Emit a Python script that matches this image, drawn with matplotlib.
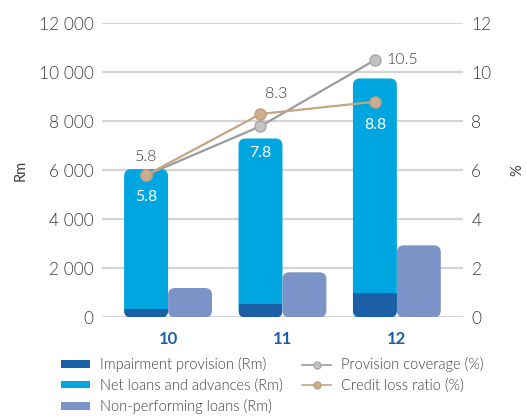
import matplotlib.pyplot as plt
from matplotlib.patches import FancyBboxPatch, Rectangle, Patch
from matplotlib.lines import Line2D

years = ["10", "11", "12"]
impairment = [350, 540, 990]
net_loans = [6050, 7300, 9750]
npl = [1200, 1840, 2940]
provision_cov = [5.8, 7.8, 10.5]
credit_loss = [5.8, 8.3, 8.8]

c_dark = "#1b5fa6"
c_cyan = "#00a6e0"
c_npl = "#7b93c7"
c_grey = "#9b9b9b"
c_tan = "#c3a584"
c_text = "#3f3f3f"

plt.rcParams["font.family"] = ["Lato", "DejaVu Sans"]
plt.rcParams["font.weight"] = 300

fig = plt.figure(figsize=(5.26, 4.16), dpi=100)
ax = fig.add_axes([0.194, 0.237, 0.686, 0.707])
ax2 = ax.twinx()

w = 0.384
x = list(range(len(years)))
ax.set_xlim(-0.577, 2.577)
ax.set_ylim(0, 12000)
ax2.set_ylim(0, 12)

# px -> data scale factors for rounded corners
px_x = 3.154 / 361.0
px_y = 12000 / 294.0
r = 7 * px_x
aspect = px_y / px_x


def rounded_bar(xc, h, color, z):
    p = FancyBboxPatch((xc - w / 2, 0), w, h,
                       boxstyle=f"round,pad=0,rounding_size={r}",
                       mutation_aspect=aspect, fc=color, ec="none", zorder=z)
    ax.add_patch(p)
    return p


for i in x:
    blue = rounded_bar(i - w / 2, net_loans[i], c_cyan, 3)
    dark = Rectangle((i - w, 0), w, impairment[i], fc=c_dark, ec="none", zorder=4)
    ax.add_patch(dark)
    dark.set_clip_path(blue)
    rounded_bar(i + w / 2, npl[i], c_npl, 3)

# gridlines
for v in range(0, 12001, 2000):
    ax.axhline(v, color="#d4d4d4", lw=1.6 if v else 2.2, zorder=1)

for s in ["top", "bottom", "left", "right"]:
    ax.spines[s].set_visible(False)
    ax2.spines[s].set_visible(False)

ax.set_yticks(range(0, 12001, 2000))
ax.set_yticklabels([f"{v:,}".replace(",", " ") for v in range(0, 12001, 2000)])
ax.tick_params(axis="y", length=0, pad=6, labelsize=12.5, labelcolor=c_text)
ax2.set_yticks(range(0, 13, 2))
ax2.tick_params(axis="y", length=0, pad=6, labelsize=12.5, labelcolor=c_text)
ax.set_xticks(x)
ax.set_xticklabels(years, fontweight="bold", color=c_dark, fontsize=12)
ax.tick_params(axis="x", length=0, pad=10)

ax.set_ylabel("Rm", color=c_text, fontsize=10.5, labelpad=8)
ax2.set_ylabel("%", color=c_text, fontsize=10.5, labelpad=14)

lx = [i - w / 2 for i in x]
ax2.plot(lx, provision_cov, color=c_grey, lw=1.6, marker="o", ms=8,
         mfc="#c2c2c2", mec="#a8a8a8", zorder=5)
ax2.plot(lx, credit_loss, color=c_tan, lw=1.6, marker="o", ms=8,
         mfc="#c9ad8e", mec="#bfa080", zorder=6)
ax2.set_zorder(ax.get_zorder() + 1)
ax2.patch.set_visible(False)

# value labels
fs = 11.5
ax2.text(lx[0], provision_cov[0] + 0.75, f"{provision_cov[0]}", ha="center", va="center", fontsize=fs, color=c_text)
ax2.text(lx[0], credit_loss[0] - 0.9, f"{credit_loss[0]}", ha="center", va="center", fontsize=fs, color="white", fontweight="normal")
ax2.text(lx[1] + 0.14, credit_loss[1] + 0.8, f"{credit_loss[1]}", ha="center", va="center", fontsize=fs, color=c_text)
ax2.text(lx[1], provision_cov[1] - 1.1, f"{provision_cov[1]}", ha="center", va="center", fontsize=fs, color="white", fontweight="normal")
ax2.text(lx[2] + 0.1, provision_cov[2], f"{provision_cov[2]}", ha="left", va="center", fontsize=fs, color=c_text)
ax2.text(lx[2], credit_loss[2] - 0.95, f"{credit_loss[2]}", ha="center", va="center", fontsize=fs, color="white", fontweight="normal")

handles = [
    Patch(fc=c_dark, ec="none"),
    Patch(fc=c_cyan, ec="none"),
    Patch(fc=c_npl, ec="none"),
    Line2D([], [], color=c_grey, lw=1.2, marker="o", ms=5, mfc="#c2c2c2", mec="#a8a8a8"),
    Line2D([], [], color=c_tan, lw=1.2, marker="o", ms=5, mfc="#c9ad8e", mec="#bfa080"),
]
labels = ["Impairment provision (Rm)", "Net loans and advances (Rm)", "Non-performing loans (Rm)",
          "Provision coverage (%)", "Credit loss ratio (%)"]
leg = fig.legend(handles, labels, ncol=2, loc="upper left", bbox_to_anchor=(0.116, 0.141),
                 frameon=False, fontsize=10.5, handlelength=2.0, handleheight=0.45,
                 handletextpad=0.7, columnspacing=1.3, labelspacing=0.42, borderaxespad=0,
                 borderpad=0, labelcolor=c_text)

fig.savefig("out.png", dpi=100)
